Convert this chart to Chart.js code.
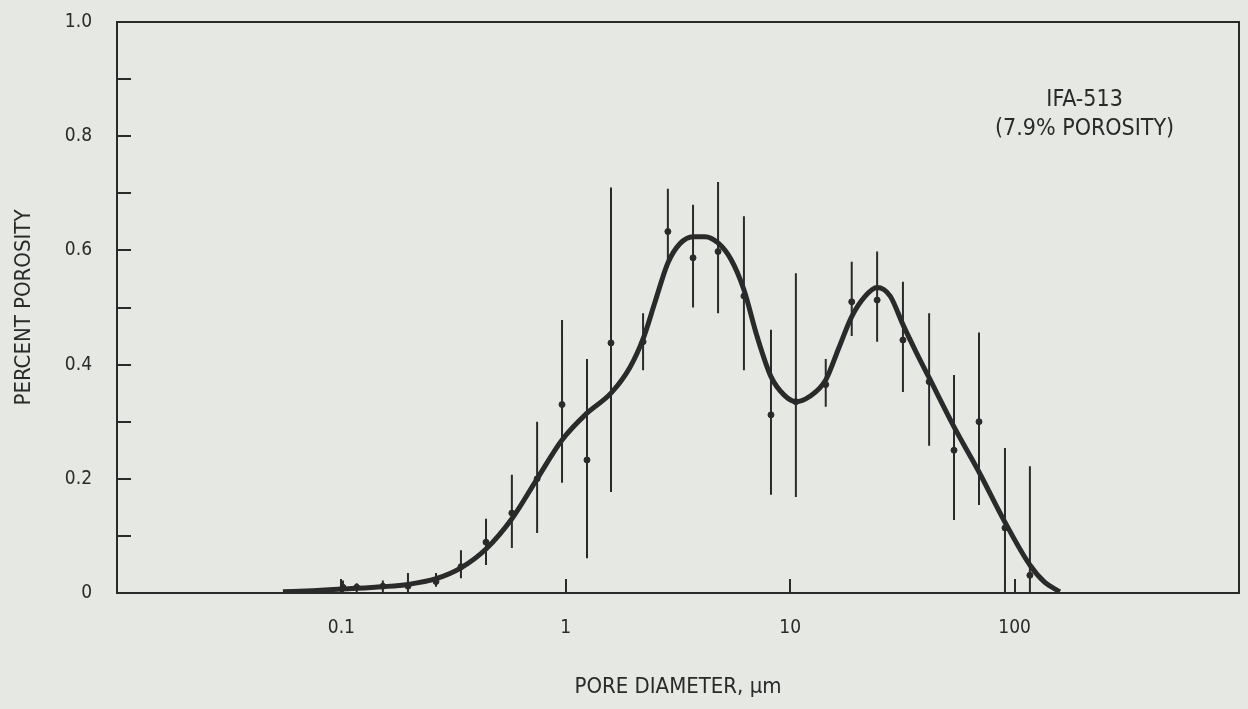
<!DOCTYPE html>
<html>
<head>
<meta charset="utf-8">
<script src="https://cdn.jsdelivr.net/npm/chart.js@4/dist/chart.umd.min.js"></script>
<style>
	body { margin: 0; background: #e6e9e3; }
	canvas { display: block; }
</style>
</head>
<body>
<canvas id="poreChart" width="1248" height="709"></canvas>
<script>
// Smoothed fit curve (pore diameter in um, percent porosity)
const curveX = [0.0549, 0.0746, 0.1016, 0.153, 0.198, 0.264, 0.341, 0.441, 0.575, 0.745, 0.962, 1.243, 1.59, 1.93, 2.21, 2.50, 2.85, 3.23, 3.69, 4.17, 4.77, 5.45, 6.22, 7.11, 8.21, 9.38, 10.6, 12.2, 14.4, 16.5, 18.8, 21.5, 24.4, 27.9, 31.8, 36.4, 41.6, 53.7, 69.4, 90.6, 117, 136, 159];
const curveY = [0.002, 0.004, 0.007, 0.011, 0.015, 0.025, 0.044, 0.077, 0.13, 0.20, 0.268, 0.315, 0.35, 0.395, 0.445, 0.51, 0.578, 0.612, 0.624, 0.624, 0.613, 0.584, 0.531, 0.45, 0.379, 0.347, 0.335, 0.344, 0.373, 0.43, 0.484, 0.519, 0.535, 0.52, 0.47, 0.422, 0.377, 0.291, 0.212, 0.124, 0.049, 0.019, 0.002];

// Measured points with error bars
const pointX = [0.1016, 0.117, 0.153, 0.198, 0.264, 0.341, 0.441, 0.575, 0.745, 0.962, 1.243, 1.59, 2.21, 2.85, 3.69, 4.77, 6.22, 8.21, 10.6, 14.4, 18.8, 24.4, 31.8, 41.6, 53.7, 69.4, 90.6, 117];
const pointY = [0.01, 0.01, 0.012, 0.012, 0.02, 0.046, 0.089, 0.14, 0.20, 0.33, 0.233, 0.438, 0.44, 0.633, 0.587, 0.598, 0.52, 0.312, 0.335, 0.365, 0.51, 0.513, 0.443, 0.37, 0.25, 0.30, 0.114, 0.031];
const errLow = [0, 0, 0, 0, 0.011, 0.026, 0.049, 0.079, 0.105, 0.193, 0.061, 0.177, 0.39, 0.57, 0.50, 0.49, 0.39, 0.172, 0.168, 0.326, 0.45, 0.44, 0.352, 0.258, 0.128, 0.154, 0, 0];
const errHigh = [0.022, 0.017, 0.022, 0.035, 0.035, 0.075, 0.13, 0.207, 0.30, 0.478, 0.41, 0.71, 0.49, 0.708, 0.68, 0.72, 0.66, 0.461, 0.56, 0.41, 0.58, 0.598, 0.545, 0.49, 0.382, 0.456, 0.254, 0.222];

const xTickValues = [0.1, 1, 10, 100];
const xTickLabels = ['0.1', '1', '10', '100'];
const yTickLabels = ['0', '0.2', '0.4', '0.6', '0.8', '1.0'];

const ink = '#2a2a2a';
const fontFamily = "'DejaVu Sans Condensed', 'Liberation Sans Narrow', 'DejaVu Sans', sans-serif";

// error bars as one dataset, segments split by nulls
let errData = [];
for (var i = 0; i < pointX.length; i++) {
	errData.push({ x: pointX[i], y: errLow[i] });
	errData.push({ x: pointX[i], y: errHigh[i] });
	errData.push({ x: pointX[i], y: null });
}

let curveData = [];
for (var i = 0; i < curveX.length; i++) {
	curveData.push({ x: curveX[i], y: curveY[i] });
}

let pointData = [];
for (var i = 0; i < pointX.length; i++) {
	pointData.push({ x: pointX[i], y: pointY[i] });
}

// frame + sample label
const framePlugin = {
	id: 'frame',
	afterDraw(chart) {
		const ctx = chart.ctx;
		const a = chart.chartArea;
		ctx.save();
		ctx.strokeStyle = ink;
		ctx.lineWidth = 2;
		ctx.beginPath();
		ctx.moveTo(a.left, a.top);
		ctx.lineTo(a.right, a.top);
		ctx.lineTo(a.right, a.bottom);
		ctx.stroke();

		const xs = chart.scales.x;
		const ys = chart.scales.y;
		const cx = xs.getPixelForValue(205);
		ctx.fillStyle = ink;
		ctx.font = '23px ' + fontFamily;
		ctx.textAlign = 'center';
		ctx.textBaseline = 'middle';
		ctx.fillText('IFA-513', cx, ys.getPixelForValue(0.864));
		ctx.fillText('(7.9% POROSITY)', cx, ys.getPixelForValue(0.812));
		ctx.restore();
	}
};

new Chart(document.getElementById('poreChart'), {
	type: 'line',
	data: {
		datasets: [
			{
				label: 'Error',
				data: errData,
				borderColor: ink,
				borderWidth: 2,
				pointRadius: 0,
				spanGaps: false
			},
			{
				label: 'Measured',
				type: 'scatter',
				data: pointData,
				backgroundColor: ink,
				borderColor: ink,
				pointRadius: 3
			},
			{
				label: 'Fit',
				data: curveData,
				borderColor: ink,
				borderWidth: 5,
				pointRadius: 0,
				cubicInterpolationMode: 'monotone'
			}
		]
	},
	options: {
		responsive: false,
		animation: false,
		layout: { padding: { left: 0, right: 9, top: 22, bottom: 0 } },
		plugins: { legend: { display: false }, tooltip: { enabled: false } },
		scales: {
			x: {
				type: 'logarithmic',
				min: 0.01,
				max: 1000,
				afterBuildTicks: (s) => { s.ticks = xTickValues.map((v) => ({ value: v })); },
				afterFit: (s) => { s.height = 116; },
				ticks: {
					color: ink,
					font: { family: fontFamily, size: 19 },
					padding: 38,
					maxRotation: 0,
					autoSkip: false,
					callback: (v, i) => xTickLabels[i]
				},
				grid: { drawOnChartArea: false, drawTicks: true, tickLength: -14, color: ink, lineWidth: 2 },
				border: { display: true, color: ink, width: 2 },
				title: {
					display: true,
					text: 'PORE DIAMETER, \u00b5m',
					color: ink,
					font: { family: fontFamily, size: 22 },
					padding: { top: 0, bottom: 9 }
				}
			},
			y: {
				type: 'linear',
				min: 0,
				max: 1,
				afterFit: (s) => {
					s.width = 117;
					s.paddingTop = 10;
					s.paddingBottom = 10;
				},
				ticks: {
					stepSize: 0.1,
					color: ink,
					font: { family: fontFamily, size: 19 },
					padding: 39,
					callback: (v, i) => (i % 2 === 0 ? yTickLabels[i / 2] : '')
				},
				grid: { drawOnChartArea: false, drawTicks: true, tickLength: -14, color: ink, lineWidth: 2 },
				border: { display: true, color: ink, width: 2 },
				title: {
					display: true,
					text: 'PERCENT POROSITY',
					color: ink,
					font: { family: fontFamily, size: 22 },
					padding: { top: 11, bottom: 0 }
				}
			}
		}
	},
	plugins: [framePlugin]
});
</script>
</body>
</html>
